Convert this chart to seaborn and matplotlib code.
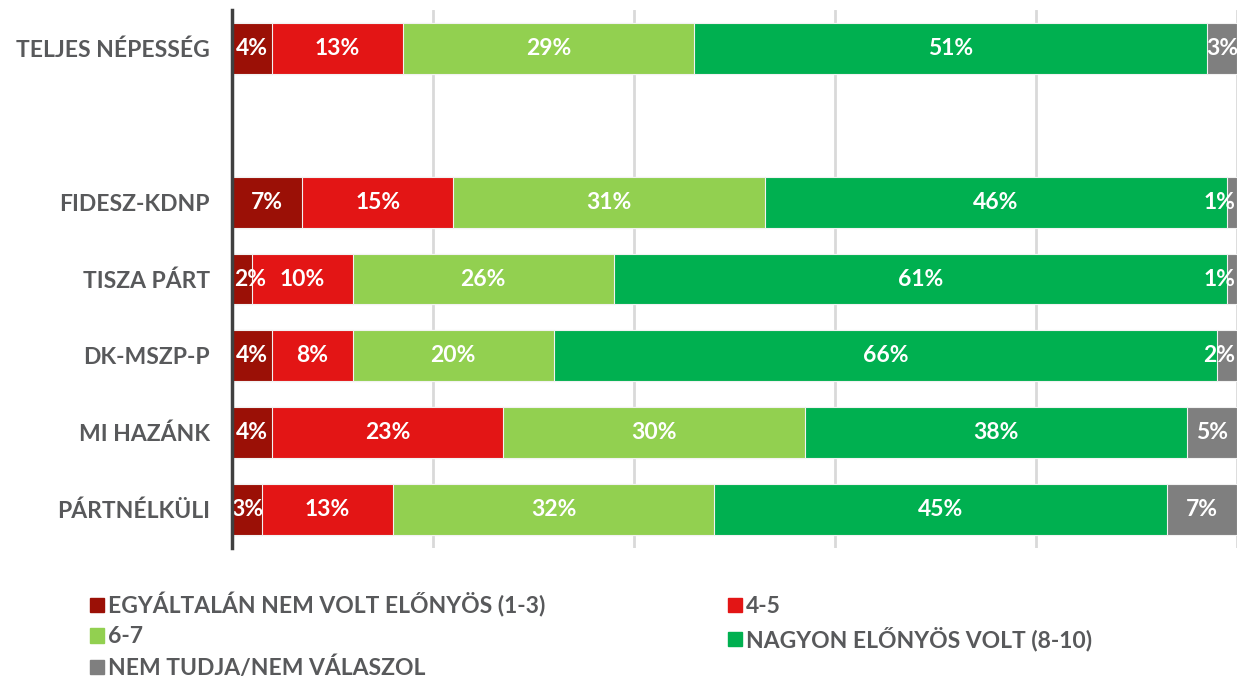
import matplotlib
matplotlib.use("Agg")
import matplotlib.pyplot as plt
from matplotlib.patches import Patch
import numpy as np
import pandas as pd
import seaborn as sns

# data
groups = ["TELJES NÉPESSÉG", "FIDESZ-KDNP", "TISZA PÁRT", "DK-MSZP-P", "MI HAZÁNK", "PÁRTNÉLKÜLI"]
answers = ["EGYÁLTALÁN NEM VOLT ELŐNYÖS (1-3)", "4-5", "6-7", "NAGYON ELŐNYÖS VOLT (8-10)", "NEM TUDJA/NEM VÁLASZOL"]
v_1_3 = [4, 7, 2, 4, 4, 3]
v_4_5 = [13, 15, 10, 8, 23, 13]
v_6_7 = [29, 31, 26, 20, 30, 32]
v_8_10 = [51, 46, 61, 66, 38, 45]
v_nt = [3, 1, 1, 2, 5, 7]

colors = ["#9b1006", "#e31515", "#92d050", "#00b050", "#7f7f7f"]
txt_grey = "#58595b"

# layout: empty slot between total population and the parties
ypos = [0, 2, 3, 4, 5, 6]

sns.set_theme(style="white")
plt.rcParams["font.family"] = ["Lato", "DejaVu Sans"]
FS = 16.5

vals = np.array([v_1_3, v_4_5, v_6_7, v_8_10, v_nt], dtype=float)
cum = vals.cumsum(axis=0)

fig = plt.figure(figsize=(12.38, 6.79), dpi=100)
ax = fig.add_axes([0.1874, 0.1929, 0.8118, 0.7924])

# draw cumulative layers from the longest to the shortest
for k in range(len(answers) - 1, -1, -1):
    df = pd.DataFrame({"y": ypos, "x": cum[k]})
    sns.barplot(data=df, x="x", y="y", orient="y", native_scale=True,
                color=colors[k], width=0.66, saturation=1,
                edgecolor="#f2f2f2", linewidth=0.8, ax=ax, zorder=2)

# value labels, kept inside the 0-100 range
half = 1.3
for k in range(len(answers)):
    for i, y in enumerate(ypos):
        v = vals[k, i]
        xc = cum[k, i] - v / 2
        ha = "center"
        if xc - half < 0:
            xc, ha = 0.2, "left"
        elif xc + half > 100:
            xc, ha = 99.85, "right"
        ax.text(xc, y, f"{int(v)}%", ha=ha, va="center",
                color="white", fontsize=FS, fontweight="bold", zorder=5)

ax.set_xlim(0, 100)
ax.set_ylim(6.5, -0.5)
ax.set_xticks([20, 40, 60, 80, 100])
ax.set_xticklabels([])
ax.set_yticks(ypos)
ax.set_yticklabels(groups, fontsize=FS, fontweight="bold", color=txt_grey)
ax.tick_params(axis="y", length=0, pad=16)
ax.tick_params(axis="x", length=0)
ax.grid(axis="x", color="#d9d9d9", linewidth=2, zorder=0)
ax.set_axisbelow(True)
ax.set_xlabel("")
ax.set_ylabel("")
for s in ["top", "right", "bottom"]:
    ax.spines[s].set_visible(False)
ax.spines["left"].set_color("#404040")
ax.spines["left"].set_linewidth(2.5)
ax.spines["left"].set_zorder(6)

# legend in row order (matplotlib fills columns first)
handles = [Patch(color=c, label=a) for a, c in zip(answers, colors)]
order = [0, 2, 4, 1, 3]
leg = fig.legend([handles[i] for i in order], [answers[i] for i in order],
                 loc="upper left", bbox_to_anchor=(0.0727, 0.128), ncol=2,
                 frameon=False, borderpad=0, borderaxespad=0,
                 handlelength=0.6, handleheight=0.6,
                 handletextpad=0.2, columnspacing=7.95, labelspacing=0.4,
                 prop={"size": FS, "weight": "bold"})
for t in leg.get_texts():
    t.set_color(txt_grey)

fig.savefig("out.png", dpi=100)
